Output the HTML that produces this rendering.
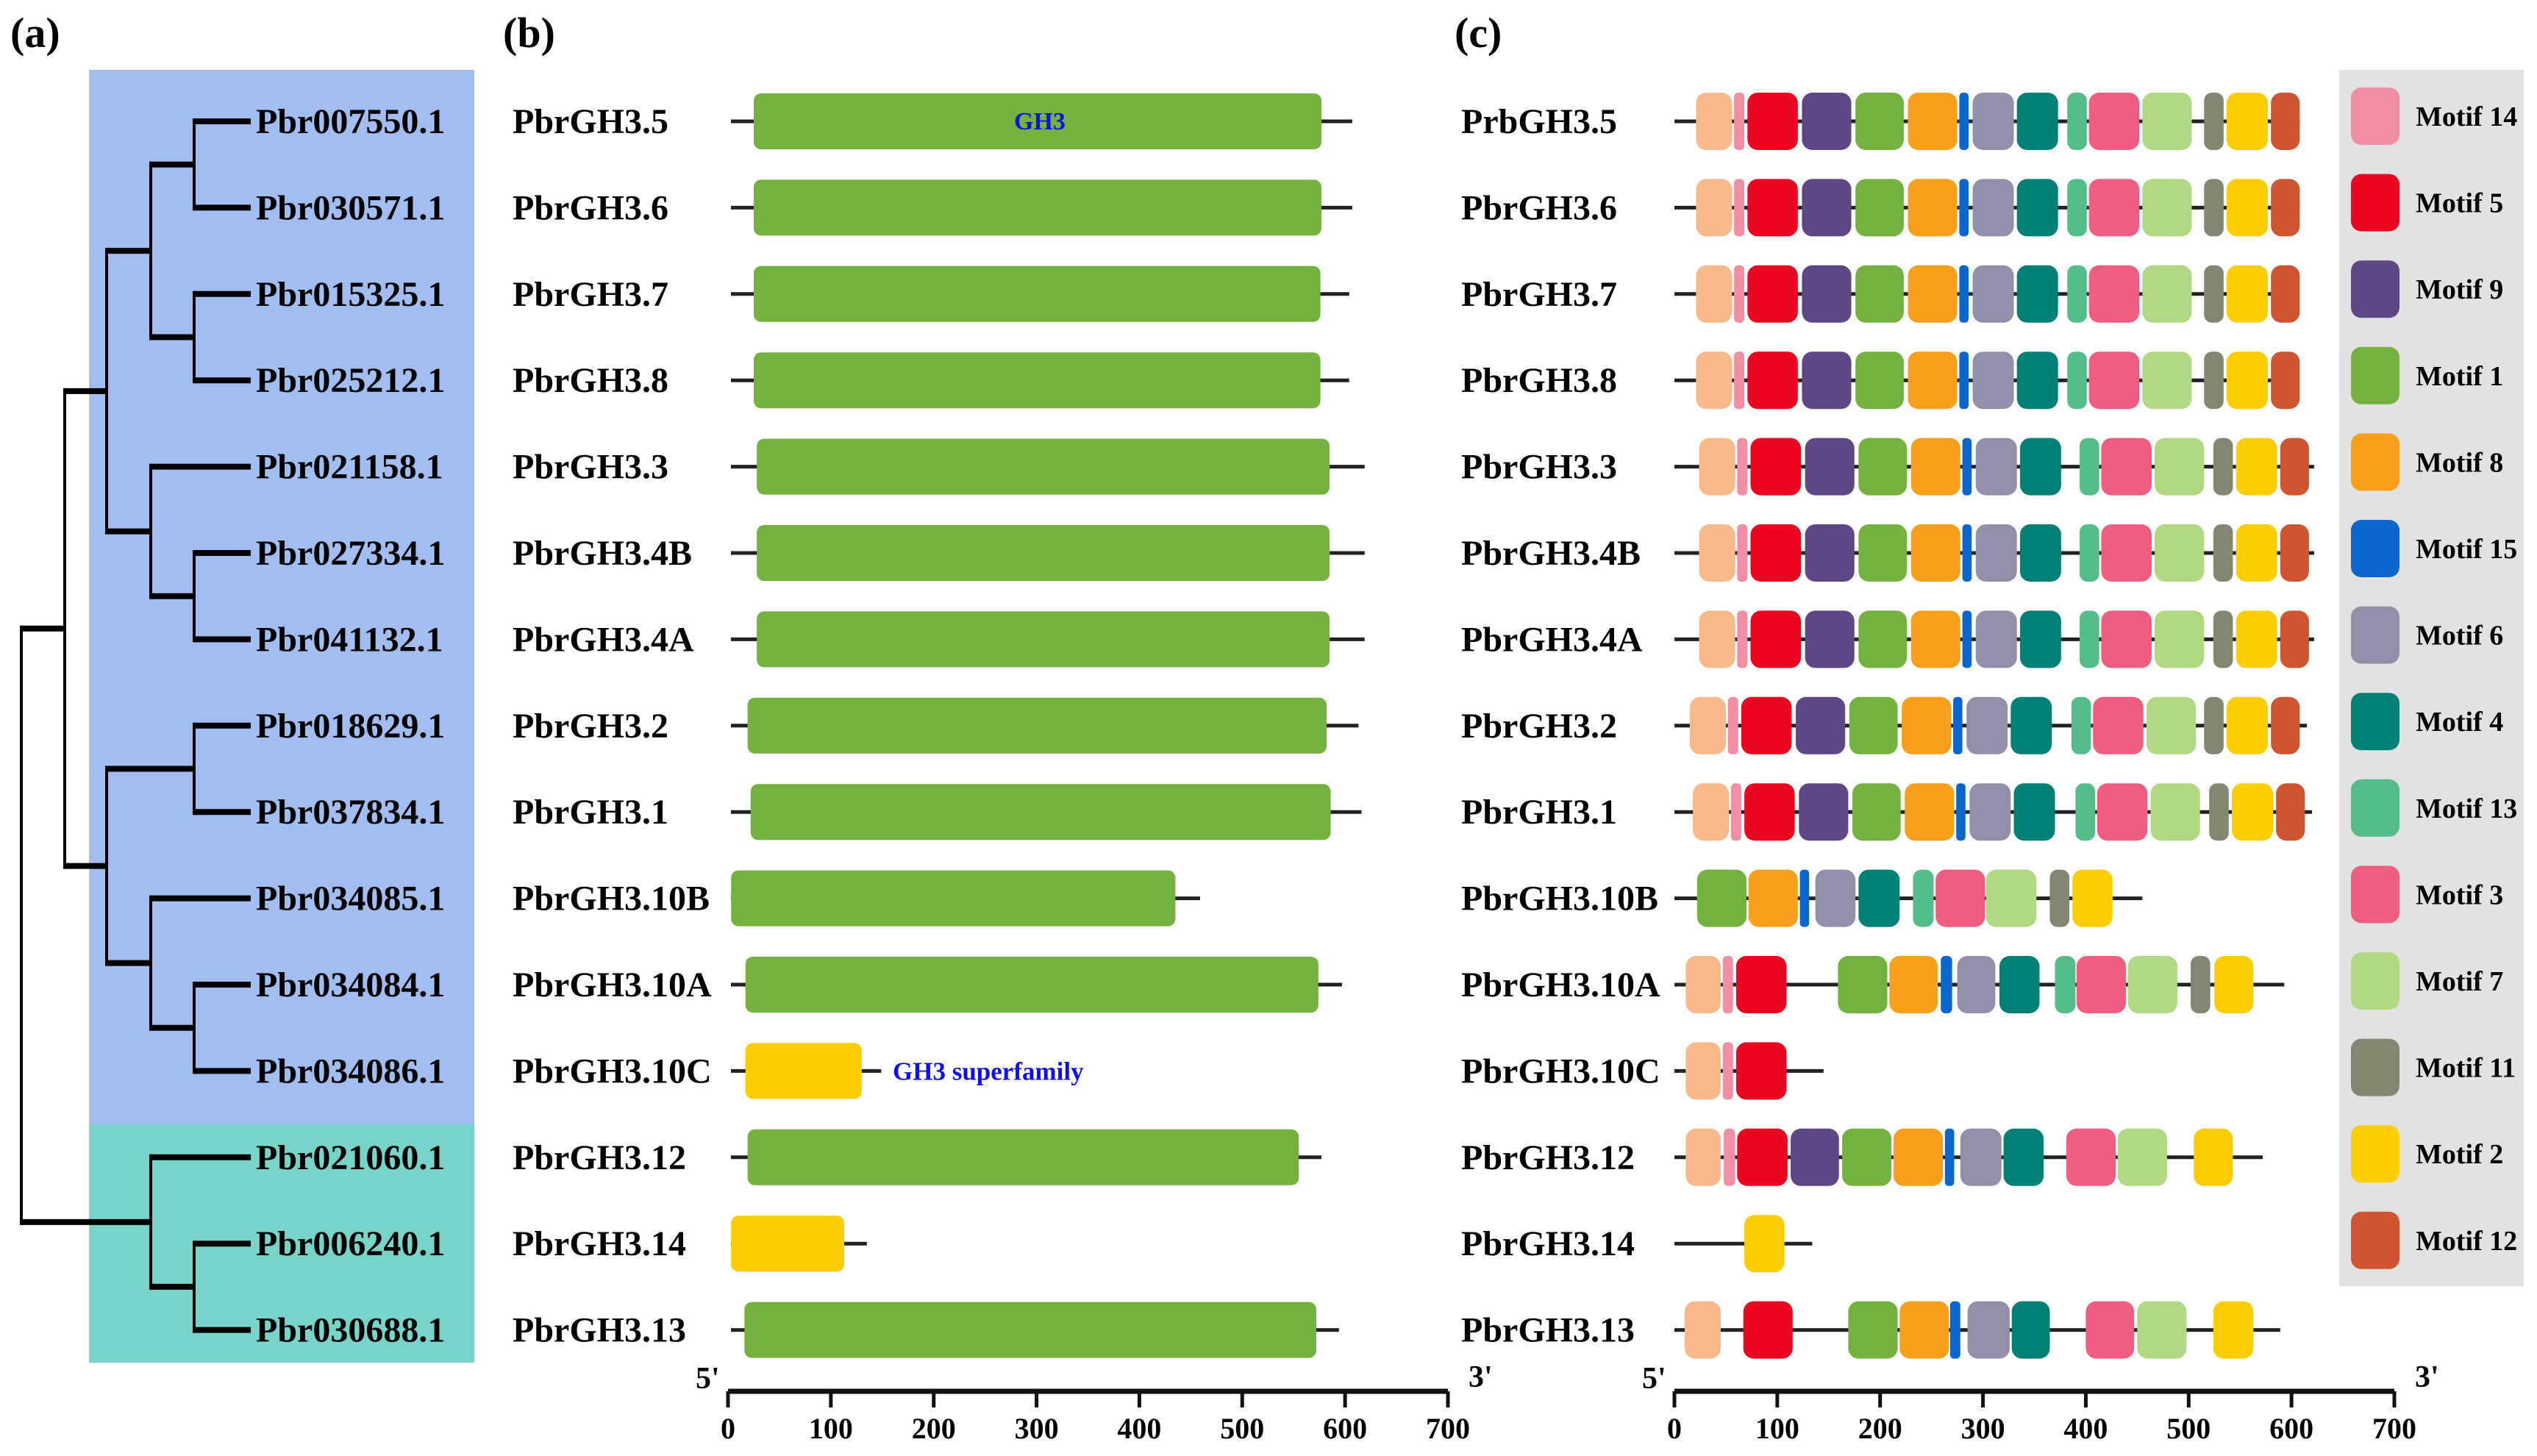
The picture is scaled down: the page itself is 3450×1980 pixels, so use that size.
<!DOCTYPE html>
<html><head><meta charset="utf-8">
<style>
html,body{margin:0;padding:0;background:#fff;}
svg{display:block;}
text{font-family:"Liberation Serif",serif;font-weight:bold;}
</style></head>
<body>
<svg id="fig" width="3450" height="1980" viewBox="0 0 3450 1980" xmlns="http://www.w3.org/2000/svg">
  <rect x="121" y="95" width="524" height="1434" fill="#A2BEF1"/>
  <rect x="121" y="1529" width="524" height="324" fill="#78D3C8"/>
  <rect x="3181" y="95" width="251" height="1654" fill="#E2E2E2"/>
  <text x="14" y="64" font-size="58">(a)</text>
  <text x="684" y="64" font-size="58">(b)</text>
  <text x="1978" y="64" font-size="58">(c)</text>
  <g id="tree"></g>
  <g id="panelB"></g>
  <g id="panelC"></g>
  <g id="legend"></g>
</svg>
<script>
const treeLabels = ["Pbr007550.1","Pbr030571.1","Pbr015325.1","Pbr025212.1","Pbr021158.1","Pbr027334.1","Pbr041132.1","Pbr018629.1","Pbr037834.1","Pbr034085.1","Pbr034084.1","Pbr034086.1","Pbr021060.1","Pbr006240.1","Pbr030688.1"];
const geneNamesB = ["PbrGH3.5","PbrGH3.6","PbrGH3.7","PbrGH3.8","PbrGH3.3","PbrGH3.4B","PbrGH3.4A","PbrGH3.2","PbrGH3.1","PbrGH3.10B","PbrGH3.10A","PbrGH3.10C","PbrGH3.12","PbrGH3.14","PbrGH3.13"];
const geneNamesC = ["PrbGH3.5","PbrGH3.6","PbrGH3.7","PbrGH3.8","PbrGH3.3","PbrGH3.4B","PbrGH3.4A","PbrGH3.2","PbrGH3.1","PbrGH3.10B","PbrGH3.10A","PbrGH3.10C","PbrGH3.12","PbrGH3.14","PbrGH3.13"];
const proteinLengths = [607,607,604,604,619,619,619,613,616,459,597,149,577,135,594];
const domainStart = [25,25,25,25,28,28,28,19,22,3,17,17,19,3,16];
const domainEnd = [577,577,576,576,585,585,585,582,586,435,574,130,555,113,572];
const domainType = ["GH3","GH3","GH3","GH3","GH3","GH3","GH3","GH3","GH3","GH3","GH3","SF","GH3","SF","GH3"];
const motifLineLengths = [608,608,605,605,622,622,622,615,620,455,593,145,572,134,589];
const axisTicks = [0,100,200,300,400,500,600,700];
const legendMotifs = [14,5,9,1,8,15,6,4,13,3,7,11,2,12];
const gh35Motifs = [[10,21,56],[14,58,68],[5,71,120],[9,124,172],[1,176,223],[8,227,275],[15,277,286],[6,290,330],[4,333,373],[13,382,401],[3,403,452],[7,455,503],[11,515,534],[2,537,577],[12,580,608]];
const gh33Motifs = [[10,24,59],[14,61,71],[5,74,123],[9,127,175],[1,179,226],[8,230,278],[15,280,289],[6,293,333],[4,336,376],[13,394,413],[3,415,464],[7,467,515],[11,524,543],[2,546,586],[12,589,617]];
const gh32Motifs = [[10,15,50],[14,52,62],[5,65,114],[9,118,166],[1,170,217],[8,221,269],[15,271,280],[6,284,324],[4,327,367],[13,386,405],[3,407,456],[7,459,507],[11,515,534],[2,537,577],[12,580,608]];
const gh31Motifs = [[10,18,53],[14,55,65],[5,68,117],[9,121,169],[1,173,220],[8,224,272],[15,274,283],[6,287,327],[4,330,370],[13,390,409],[3,411,460],[7,463,511],[11,520,539],[2,542,582],[12,585,613]];
const gh310BMotifs = [[1,22,70],[8,72,120],[15,122,131],[6,137,176],[4,179,219],[13,232,252],[3,254,302],[7,303,352],[11,365,384],[2,387,426]];
const gh310AMotifs = [[10,11,45],[14,47,57],[5,60,109],[1,159,207],[8,209,256],[15,259,270],[6,275,312],[4,316,355],[13,370,390],[3,391,439],[7,441,489],[11,502,521],[2,525,563]];
const gh310CMotifs = [[10,11,45],[14,47,57],[5,60,109]];
const gh312Motifs = [[10,11,45],[14,48,59],[5,61,110],[9,113,160],[1,163,211],[8,213,261],[15,263,272],[6,278,318],[4,320,359],[3,381,429],[7,431,479],[2,505,543]];
const gh314Motifs = [[2,68,107]];
const gh313Motifs = [[10,10,45],[5,67,115],[1,169,217],[8,219,267],[15,268,278],[6,285,326],[4,328,365],[3,400,447],[7,450,498],[2,524,563]];
const geneMotifs = [gh35Motifs,gh35Motifs,gh35Motifs,gh35Motifs,gh33Motifs,gh33Motifs,gh33Motifs,gh32Motifs,gh31Motifs,gh310BMotifs,gh310AMotifs,gh310CMotifs,gh312Motifs,gh314Motifs,gh313Motifs];

const motifColor = {10:"#F9B98A",14:"#F08FA3",5:"#EA0520",9:"#5E4785",1:"#74B23F",8:"#F8A01B",15:"#0A66CC",6:"#938EAA",4:"#008076",13:"#55BD8A",3:"#EF5E80",7:"#B1D882",11:"#818770",2:"#FCCD00",12:"#CE5530"};
const NS="http://www.w3.org/2000/svg";
function mk(tag, attrs, parent){const e=document.createElementNS(NS,tag);for(const k in attrs)e.setAttribute(k,attrs[k]);parent.appendChild(e);return e;}
const rowY = i => 165 + i*117.4;
const xB = v => 990 + v*979/700;
const xC = v => 2277 + v*979/700;

// tree
const tree = document.getElementById('tree');
const X = [29,88,145,205,264,341];
function hl(x1,x2,y){const l=mk('line',{x1:x1,x2:x2,y1:y,y2:y,stroke:'#000','stroke-width':8},tree);

}
function vl(x,y1,y2){const l=mk('line',{x1:x,x2:x,y1:y1-4,y2:y2+4,stroke:'#000','stroke-width':4},tree);

}
function pair(a,b,x){vl(x,rowY(a),rowY(b));hl(x,X[5],rowY(a));hl(x,X[5],rowY(b));return (rowY(a)+rowY(b))/2;}
const p12=pair(0,1,X[4]), p34=pair(2,3,X[4]), p67=pair(5,6,X[4]), p89=pair(7,8,X[4]), p1112=pair(10,11,X[4]), p1415=pair(13,14,X[4]);
function join(ya,yb,x,xa,xb){vl(x,ya,yb);hl(x,xa,ya);hl(x,xb,yb);return (ya+yb)/2;}
const nA=join(p12,p34,X[3],X[4],X[4]);
const n5=join(rowY(4),p67,X[3],X[5],X[4]);
const nAB=join(nA,n5,X[2],X[3],X[3]);
const n10=join(rowY(9),p1112,X[3],X[5],X[4]);
const nC=join(p89,n10,X[2],X[4],X[3]);
const nABC=join(nAB,nC,X[1],X[2],X[2]);
const nD=join(rowY(12),p1415,X[3],X[5],X[4]);
join(nABC,nD,X[0],X[1],X[3]);
treeLabels.forEach((t,i)=>{const e=mk('text',{x:348,y:rowY(i)+16,'font-size':48},tree);e.textContent=t;

});

// axis helper
function axis(g,xf){
  const y=1892;
  const l=mk('line',{x1:xf(0),x2:xf(700),y1:y,y2:y,stroke:'#111','stroke-width':7},g);
  
  
  axisTicks.forEach(v=>{const t=mk('line',{x1:xf(v),x2:xf(v),y1:y,y2:y+22,stroke:'#111','stroke-width':5},g);
    
    
    const tx=mk('text',{x:xf(v),y:y+64,'font-size':40,'text-anchor':'middle'},g);tx.textContent=v;
    
    });
  const a=mk('text',{x:xf(0)-44,y:y-4,'font-size':42},g);a.textContent="5'";
  
  
  const b=mk('text',{x:xf(700)+28,y:y-6,'font-size':42},g);b.textContent="3'";
  
  
}

// panel b
const pb=document.getElementById('panelB');
geneNamesB.forEach((n,i)=>{
  const y=rowY(i);
  const t=mk('text',{x:697,y:y+16,'font-size':48},pb);t.textContent=n;
  
  
  const l=mk('line',{x1:xB(0)+4,x2:xB(proteinLengths[i]),y1:y,y2:y,stroke:'#222','stroke-width':5},pb);
  
  
  const r=mk('rect',{x:xB(domainStart[i]),y:y-38,width:xB(domainEnd[i])-xB(domainStart[i]),height:76,rx:10,fill:domainType[i]==='GH3'?'#74B23F':'#FCCD00'},pb);
  
  
});
const g1=mk('text',{x:1414,y:rowY(0)+11,'font-size':34,fill:'#1010EE','text-anchor':'middle'},pb);g1.textContent='GH3';


const g2=mk('text',{x:1214,y:rowY(11)+12,'font-size':35,fill:'#1010EE'},pb);g2.textContent='GH3 superfamily';


axis(pb,xB);

// panel c
const pc=document.getElementById('panelC');
geneNamesC.forEach((n,i)=>{
  const y=rowY(i);
  const t=mk('text',{x:1987,y:y+16,'font-size':48},pc);t.textContent=n;
  
  
  const l=mk('line',{x1:xC(0),x2:xC(motifLineLengths[i]),y1:y,y2:y,stroke:'#222','stroke-width':5},pc);
  
  
  geneMotifs[i].forEach(m=>{
    const w=xC(m[2])-xC(m[1]);
    const r=mk('rect',{x:xC(m[1]),y:y-39,width:w,height:78,rx:Math.min(14,w/2.5),fill:motifColor[m[0]]},pc);
    
    
  });
});
axis(pc,xC);

// legend
const lg=document.getElementById('legend');
legendMotifs.forEach((m,i)=>{
  const y=158+i*117.6;
  const r=mk('rect',{x:3197,y:y-39,width:66,height:78,rx:14,fill:motifColor[m]},lg);
  
  
  const t=mk('text',{x:3285,y:y+13,'font-size':38},lg);t.textContent='Motif '+m;
  
  
});
</script>
</body></html>
